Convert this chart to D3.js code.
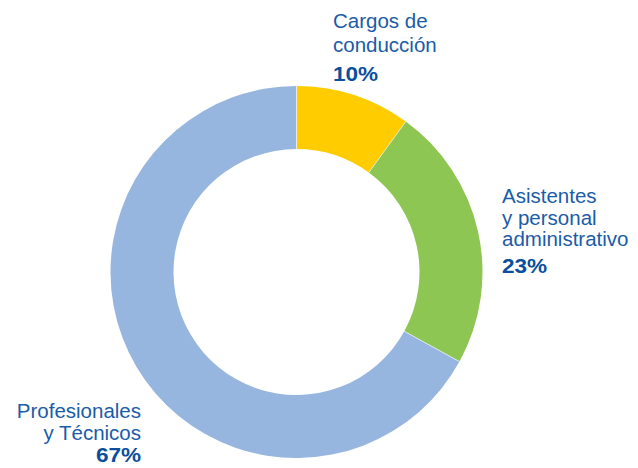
<!DOCTYPE html>
<html><head><meta charset="utf-8">
<script src="https://cdn.jsdelivr.net/npm/d3@7/dist/d3.min.js"></script>
<style>
body{margin:0;background:#fff;}
text{font-family:"Liberation Sans Narrow","Arial Narrow","Liberation Sans",sans-serif;}
</style></head>
<body><svg id="c" width="638" height="468"></svg>
<script>
const categories = ["Cargos de conducción", "Asistentes y personal administrativo", "Profesionales y Técnicos"];
const values = [10, 23, 67];
const labelLines = [["Cargos de", "conducción"], ["Asistentes", "y personal", "administrativo"], ["Profesionales", "y Técnicos"]];
const colors = ["#FFCC00", "#8DC653", "#96B6DF"];

const svg = d3.select("#c");
const cx = 296.5, cy = 272, rOuter = 186, rInner = 123;
const pie = d3.pie().sort(null).value(d => d)(values);
const arc = d3.arc().innerRadius(rInner).outerRadius(rOuter);
const g = svg.append("g").attr("transform", `translate(${cx},${cy})`);
g.selectAll("path").data(pie).join("path")
  .attr("d", arc).attr("fill", (d, i) => colors[i]);
g.selectAll("line").data(pie).join("line")
  .attr("x1", d => rInner * Math.sin(d.startAngle)).attr("y1", d => -rInner * Math.cos(d.startAngle))
  .attr("x2", d => rOuter * Math.sin(d.startAngle)).attr("y2", d => -rOuter * Math.cos(d.startAngle))
  .attr("stroke", "#fff").attr("stroke-width", 0.6);

const labelPos = [
  {x: 333, y: 28, step: 24, anchor: "start", pctY: 81},
  {x: 502, y: 203, step: 21.5, anchor: "start", pctY: 273},
  {x: 141, y: 418, step: 22, anchor: "end", pctY: 462}
];
const textColor = "#1A5CA8", pctColor = "#0B4F9C";
labelLines.forEach((lines, i) => {
  const p = labelPos[i];
  lines.forEach((l, j) => svg.append("text").attr("x", p.x).attr("y", p.y + j * p.step)
    .attr("text-anchor", p.anchor).attr("fill", textColor).attr("font-size", 20.5).text(l));
  svg.append("g").attr("transform", `translate(${p.x},${p.pctY}) scale(1.1,1)`)
    .append("text").attr("x", 0).attr("y", 0).attr("text-anchor", p.anchor)
    .attr("fill", pctColor).attr("font-size", 20.5).attr("font-weight", "bold")
    .attr("font-family", "'DejaVu Sans',sans-serif")
    .text(values[i] + "%");
});
</script></body></html>
